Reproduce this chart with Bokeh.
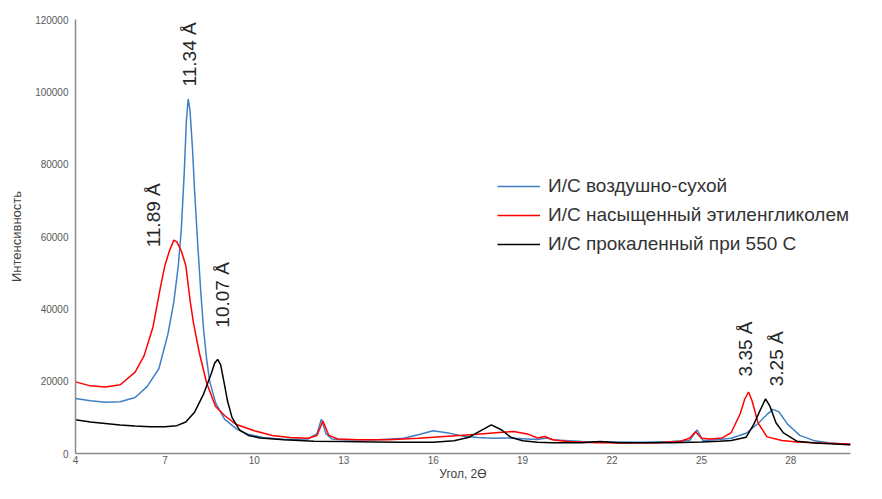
import math
from bokeh.plotting import figure
from bokeh.models import (FixedTicker, NumeralTickFormatter, Legend, LegendItem,
                          Range1d, ColumnDataSource)
from bokeh.core.properties import value
from bokeh.embed import file_html
from bokeh.resources import INLINE

# ---------------- data ----------------
x_blue = [4.0, 4.5, 5.0, 5.5, 6.0, 6.4, 6.8, 7.1, 7.3, 7.45, 7.55, 7.65, 7.72, 7.78, 7.84,
          7.92, 8.0, 8.1, 8.2, 8.3, 8.4, 8.5, 8.7, 9.0, 9.4, 9.8, 10.3, 11.0, 11.8, 12.1,
          12.25, 12.4, 12.6, 13.0, 14.0, 15.0, 15.5, 16.0, 16.5, 17.0, 17.5, 18.0, 18.5,
          19.0, 19.5, 19.8, 20.1, 21.0, 22.0, 23.0, 24.0, 24.6, 24.85, 25.05, 25.5, 26.0,
          26.5, 26.9, 27.2, 27.4, 27.6, 27.9, 28.3, 28.8, 29.3, 30.0]
y_blue = [15200, 14600, 14200, 14300, 15500, 18500, 23500, 33000, 42000, 52000, 62000,
          78000, 92000, 98000, 95000, 85000, 72000, 58000, 45000, 34000, 26000, 20000,
          14000, 9500, 6800, 5300, 4400, 3900, 4000, 5500, 9500, 5500, 4000, 3800, 3700,
          4200, 5200, 6300, 5700, 4800, 4400, 4200, 4300, 4100, 3900, 4300, 3700, 3300,
          3200, 3100, 3300, 3600, 6500, 3600, 3800, 4200, 5600, 8300, 10800, 12200, 11500,
          8000, 5000, 3500, 2900, 2400]

x_red = [4.0, 4.5, 5.0, 5.5, 6.0, 6.3, 6.6, 6.85, 7.0, 7.15, 7.3, 7.4, 7.55, 7.7, 7.85,
         7.96, 8.15, 8.4, 8.7, 9.0, 9.4, 10.0, 10.6, 11.2, 11.8, 12.1, 12.3, 12.5, 12.8,
         13.5, 14.5, 15.5, 16.5, 17.5, 18.2, 18.7, 19.2, 19.5, 19.75, 20.0, 20.5, 21.5,
         22.5, 23.5, 24.3, 24.6, 24.8, 25.0, 25.3, 25.7, 26.0, 26.3, 26.45, 26.58, 26.7,
         26.9, 27.2, 27.7, 28.2, 29.0, 30.0]
y_red = [19800, 18700, 18400, 19000, 22500, 27000, 35000, 46000, 52000, 56000, 59000,
         58500, 56000, 52000, 42000, 36000, 28000, 19500, 13000, 10500, 8000, 6300, 5000,
         4400, 4200, 5000, 9000, 5000, 4000, 3800, 3800, 4200, 4800, 5300, 5800, 6100,
         5300, 4300, 4700, 3800, 3300, 3000, 2900, 3000, 3400, 4200, 6000, 4200, 4000,
         4300, 5800, 11000, 15000, 17000, 14500, 8400, 4600, 3600, 3200, 2900, 2600]

x_black = [4.0, 4.5, 5.0, 5.5, 6.0, 6.5, 7.0, 7.4, 7.7, 8.0, 8.3, 8.55, 8.67, 8.77, 8.87,
           9.0, 9.1, 9.25, 9.5, 9.8, 10.2, 11.0, 12.0, 13.0, 14.0, 15.0, 16.0, 16.7, 17.2,
           17.6, 17.95, 18.3, 18.6, 19.0, 19.5, 20.0, 21.0, 21.6, 22.2, 23.0, 24.0, 25.0,
           25.6, 26.0, 26.5, 26.75, 27.0, 27.15, 27.3, 27.5, 27.75, 28.2, 28.8, 29.3, 30.0]
y_black = [9300, 8700, 8300, 7900, 7600, 7400, 7400, 7700, 8700, 11500, 16500, 22000,
           25000, 26000, 24500, 19000, 14500, 10000, 6500, 5000, 4300, 3800, 3400, 3300,
           3200, 3100, 3100, 3500, 4500, 6300, 7900, 6500, 4500, 3500, 3100, 3000, 3000,
           3300, 3000, 3000, 3000, 3200, 3400, 3600, 4500, 8000, 12500, 15100, 13000, 8500,
           5700, 3400, 2900, 2700, 2400]

series_names = ["И/С воздушно-сухой", "И/С насыщенный этиленгликолем", "И/С прокаленный при 550 С"]
series_colors = ["#3f7fc4", "#ff0000", "#000000"]

x_ticks = [4, 7, 10, 13, 16, 19, 22, 25, 28]
y_ticks = [0, 20000, 40000, 60000, 80000, 100000, 120000]

peak_labels = ["11.34 Å", "11.89 Å", "10.07 Å", "3.35 Å", "3.25 Å"]
peak_label_x = [7.83, 6.6, 8.93, 26.48, 27.52]
peak_label_y = [101500, 57000, 34800, 21300, 18600]

# ---------------- figure ----------------
p = figure(width=866, height=483, output_backend="svg", toolbar_location=None,
           x_range=Range1d(4, 30), y_range=Range1d(0, 120000),
           min_border_left=75, min_border_right=16, min_border_top=19, min_border_bottom=20)
p.outline_line_color = None
p.xgrid.visible = False
p.ygrid.visible = False
p.background_fill_color = "white"
p.border_fill_color = "white"

renderers = []
for xs, ys, c in [(x_blue, y_blue, series_colors[0]), (x_red, y_red, series_colors[1]),
                  (x_black, y_black, series_colors[2])]:
    r = p.line(xs, ys, line_color=c, line_width=1.5)
    renderers.append(r)

src = ColumnDataSource(dict(x=peak_label_x, y=peak_label_y, t=peak_labels))
p.text(x="x", y="y", text="t", source=src, angle=math.pi / 2,
       text_align="left", text_baseline="middle",
       text_font=value("Liberation Sans"), text_font_size="19px", text_color="#262626")

axis_color = "#8c8c8c"
for ax in (p.xaxis[0], p.yaxis[0]):
    ax.axis_line_color = axis_color
    ax.axis_line_width = 1.5
    ax.major_tick_line_color = None
    ax.minor_tick_line_color = None
    ax.major_tick_out = 0
    ax.major_tick_in = 0
    ax.minor_tick_out = 0
    ax.minor_tick_in = 0
    ax.major_label_text_font = "Liberation Sans"
    ax.major_label_text_font_size = "10px"
    ax.major_label_text_color = "#595959"
    ax.axis_label_text_font = "Liberation Sans"
    ax.axis_label_text_font_style = "normal"
    ax.axis_label_text_color = "#404040"

p.xaxis.ticker = FixedTicker(ticks=x_ticks)
p.yaxis.ticker = FixedTicker(ticks=y_ticks)
p.yaxis.formatter = NumeralTickFormatter(format="0")
p.xaxis.axis_label = "Угол, 2Ө"
p.yaxis.axis_label = "Интенсивность"
p.xaxis.axis_label_text_font_size = "12px"
p.yaxis.axis_label_text_font_size = "13px"
p.xaxis.major_label_standoff = 2
p.xaxis.axis_label_standoff = 0
p.yaxis.major_label_standoff = 7
p.yaxis.axis_label_standoff = 8

legend = Legend(items=[LegendItem(label=n, renderers=[r]) for n, r in zip(series_names, renderers)],
                location=(422, 198), padding=0, margin=0, spacing=7,
                label_height=20, glyph_height=20, glyph_width=43, label_standoff=8,
                label_text_font="Liberation Sans", label_text_font_size="19px",
                label_text_color="#333333", border_line_color=None,
                background_fill_alpha=0)
p.add_layout(legend, "center")

open("out.html", "w").write(file_html(p, INLINE))
